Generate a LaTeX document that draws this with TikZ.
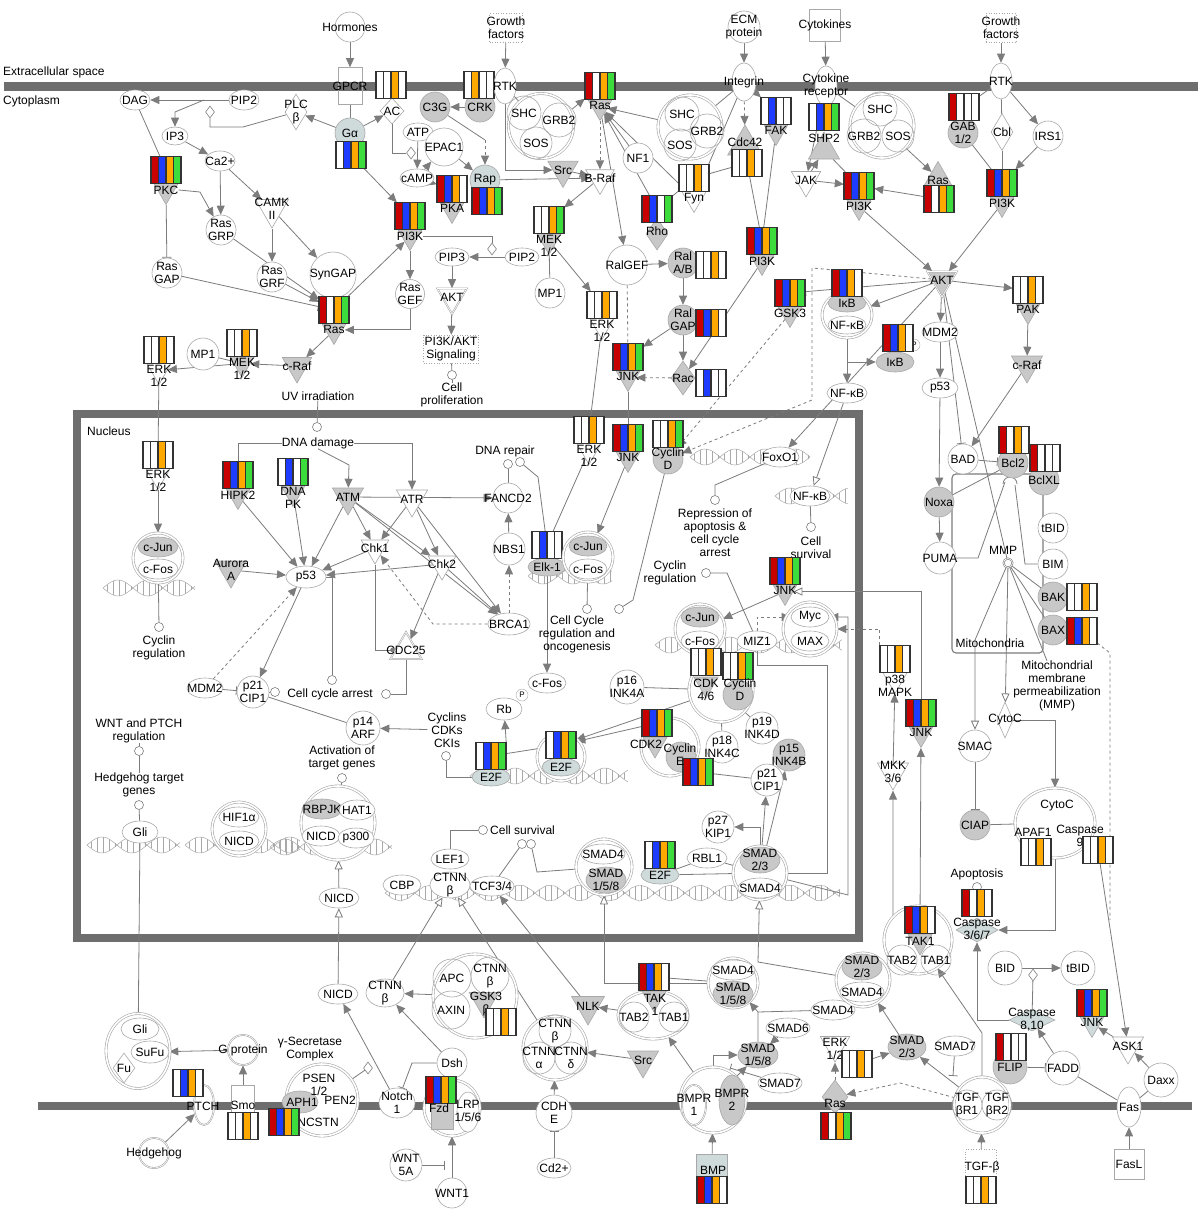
\documentclass[tikz,border=0pt]{standalone}
\usepackage{fontspec}
\setmainfont{Liberation Sans}
\usetikzlibrary{shapes.geometric,arrows.meta}
\pgfdeclarelayer{bgm}
\pgfdeclarelayer{bgl}
\pgfsetlayers{bgm,bgl,main}
\definecolor{cR}{HTML}{C80000}
\definecolor{cB}{HTML}{1E3CFF}
\definecolor{cO}{HTML}{FFA800}
\definecolor{cG}{HTML}{3CDC3C}
\definecolor{lc}{HTML}{A8A8A8}
\definecolor{ac}{HTML}{7C7C7C}
\definecolor{gf}{HTML}{C8C8C8}
\definecolor{bf}{HTML}{CFDADB}
\definecolor{memc}{HTML}{6E6E6E}
\newcommand\lf{\fontsize{12}{13}\selectfont}
\newcommand\cb[6]{%
 \node[barn] (#1) at (#2) {};
 \begin{scope}[shift={(#2)}]
 \fill[#3] (-15,-13.5) rectangle (-7.5,13.5);
 \fill[#4] (-7.5,-13.5) rectangle (0,13.5);
 \fill[#5] (0,-13.5) rectangle (7.5,13.5);
 \fill[#6] (7.5,-13.5) rectangle (15,13.5);
 \draw[line width=1.1pt,black!80] (-15,-13.5) rectangle (15,13.5) (-7.5,-13.5)--(-7.5,13.5) (0,-13.5)--(0,13.5) (7.5,-13.5)--(7.5,13.5);
 \end{scope}}
\newcommand\kin[9]{%
 \node[nT,fill=#9] (#1) at (#2,#3+20.5) {};
 \cb{#1b}{#2,#3}{#5}{#6}{#7}{#8}%
 \node[lbl,anchor=north] (#1l) at (#2,#3+15.5) {#4};}
\newcommand\helix[3]{%
 \draw[hx] plot[domain=#1:#2,samples=60] (\x,{#3+8*sin((\x-#1)*6)});
 \draw[hx] plot[domain=#1:#2,samples=60] (\x,{#3-8*sin((\x-#1)*6)});
 \pgfmathtruncatemacro\hxn{(#2-#1-4)/6}%
 \foreach \kk in {0,...,\hxn}{\pgfmathsetmacro\xx{#1+4+6*\kk}%
  \draw[hx] (\xx,{#3+8*sin((\xx-#1)*6)}) -- (\xx,{#3-8*sin((\xx-#1)*6)});}}
\tikzset{
 lbl/.style={inner sep=0pt,align=center,font=\lf},
 tx/.style={label={[lbl]center:#1}},
 nC/.style={circle,draw=lc,fill=white,inner sep=0pt,minimum size=30pt,line width=0.6pt},
 nG/.style={nC,fill=gf},
 nI/.style={circle,draw=lc,fill=none,inner sep=0pt,minimum size=30pt,line width=0.6pt},
 nE/.style={ellipse,draw=lc,fill=white,inner sep=0pt,minimum width=40pt,minimum height=20pt,line width=0.6pt},
 nD/.style={diamond,draw=lc,fill=white,inner sep=0pt,minimum width=24pt,minimum height=26pt,line width=0.6pt},
 nT/.style={regular polygon,regular polygon sides=3,shape border rotate=180,draw=lc,fill=gf,inner sep=0pt,minimum size=28pt,line width=0.6pt},
 nU/.style={regular polygon,regular polygon sides=3,draw=lc,fill=gf,inner sep=0pt,minimum size=30pt,line width=0.6pt},
 nX/.style={circle,draw=lc,double=white,double distance=1.6pt,fill=white,inner sep=0pt,line width=0.6pt},
 nXE/.style={ellipse,draw=lc,double=white,double distance=1.6pt,fill=white,inner sep=0pt,line width=0.6pt},
 nR/.style={rectangle,draw=lc,fill=white,inner sep=0pt,line width=0.6pt},
 nS/.style={circle,draw=ac,fill=white,inner sep=0pt,minimum size=9pt,line width=0.6pt},
 nK/.style={diamond,draw=ac,fill=white,inner sep=0pt,minimum width=9pt,minimum height=12pt,line width=0.6pt},
 nP/.style={circle,draw=lc,fill=white,inner sep=0pt,minimum size=12pt,font=\fontsize{8}{9}\selectfont},
 barn/.style={rectangle,inner sep=0pt,minimum width=30pt,minimum height=27pt},
 aL/.style={draw=ac,line width=0.8pt},
 aA/.style={aL,-{Triangle[length=9pt,width=8pt]}},
 aI/.style={aL,-{Bar[width=9pt]}},
 aO/.style={aL,-{Triangle[open,length=9pt,width=8pt,fill=white]}},
 aD/.style={aL,-{Circle[length=5pt]}},
 hx/.style={draw=lc,line width=0.5pt},
}
\begin{document}
\begin{tikzpicture}[x=1pt,y=-1pt,font=\lf]
\useasboundingbox (0,0) rectangle (1200,1220);
\begin{pgfonlayer}{bgm}
\fill[white] (0,0) rectangle (1200,1220);
\draw[memc,line width=9pt] (4,86.5)--(1198,86.5);
\draw[memc,line width=8pt] (38,1106)--(1192,1106);
\draw[memc,line width=8pt] (77,414) rectangle (859,938);
\helix{103}{195}{588}
\helix{87}{180}{845}
\helix{185}{300}{845}
\helix{270}{392}{847}
\helix{385}{840}{893}
\helix{690}{810}{457}
\helix{775}{848}{496}
\helix{655}{842}{645}
\helix{470}{628}{776}
\helix{528}{612}{576}
\end{pgfonlayer}
% texts
\node[lbl,anchor=west] (ecs) at (3,72) {Extracellular space};
\node[lbl,anchor=west] (cyt) at (3,101) {Cytoplasm};
\node[lbl,anchor=west] (nuc) at (87,431) {Nucleus};
% ===== top left
\node[nC,tx={Hormones}] (horm) at (350,27) {};
\node[nR,fill=none,minimum width=24pt,minimum height=37pt,tx={GPCR}] (gpcr) at (350,86) {};
\node[nD,tx={AC}] (ac) at (392,111) {};
\cb{acB}{391,85}{white}{white}{cO}{white}
\node[nG,tx={C3G}] (c3g) at (435,107) {};
\node[nG,tx={CRK}] (crk) at (480,107) {};
\cb{crkB}{479,85}{white}{cO}{white}{white}
\node[nE,minimum width=22pt,minimum height=36pt,tx={RTK}] (rtk1) at (505,86) {};
\node[nR,dotted,minimum width=33pt,minimum height=29pt,tx={Growth\\factors}] (gf1) at (506,28) {};
\node[nX,minimum size=65pt] (cx1) at (541,126) {};
\node[nI,minimum size=34pt,tx={SHC}] (shc1) at (524,113) {};
\node[nI,minimum size=34pt,tx={GRB2}] (grb1) at (559,120) {};
\node[nI,minimum size=32pt,tx={SOS}] (sos1) at (536,143) {};
\node[nC,fill=bf,tx={Gα}] (ga) at (350,133) {};
\cb{gaB}{351,155}{white}{cB}{cO}{cG}
\node[nD,minimum width=22pt,minimum height=36pt,tx={PLC\\β}] (plc) at (296,112) {};
\node[nE,minimum width=30pt,tx={PIP2}] (pip2a) at (244,100) {};
\node[nE,minimum width=30pt,tx={DAG}] (dag) at (135,100) {};
\node[nK] (cat1) at (210,112) {};
\node[nE,minimum width=26pt,minimum height=18pt,tx={IP3}] (ip3) at (175,136) {};
\node[nE,minimum width=30pt,tx={Ca2+}] (ca) at (220,161) {};
\kin{pkc}{166}{170}{PKC}{cR}{cB}{cO}{cG}{gf}
\node[nT,fill=white,minimum size=38pt,tx={CAMK\\II}] (camk) at (272,209) {};
\node[nC,tx={Ras\\GRP}] (rgrp) at (221,230) {};
\node[nC,tx={Ras\\GAP}] (rgap) at (167,273) {};
\node[nC,tx={Ras\\GRF}] (rgrf) at (272,277) {};
\node[nC,minimum size=46pt,tx={SynGAP}] (syngap) at (333,275) {};
\kin{ras1}{334}{310}{Ras}{cR}{white}{cO}{cG}{gf}
\node[nC,minimum size=29pt,tx={Ras\\GEF}] (rasgef) at (410,294) {};
\node[nT,minimum size=34pt,tx={c-Raf}] (craf1) at (297,366) {};
\kin{mek1}{242}{343}{MEK\\1/2}{white}{white}{cO}{white}{gf}
\node[nC,minimum size=32pt,tx={MP1}] (mp1a) at (203,354) {};
\kin{erk1}{159}{350}{ERK\\1/2}{white}{white}{cO}{white}{white}
\node[lbl] (uv) at (318,396) {UV irradiation};
\kin{pi3k1}{410}{216}{PI3K}{cR}{cB}{cO}{cG}{gf}
\node[nE,minimum width=30pt,minimum height=18pt,tx={ATP}] (atp) at (418,132) {};
\node[nC,minimum size=38pt,tx={EPAC1}] (epac) at (444,147) {};
\node[nE,minimum width=34pt,minimum height=18pt,tx={cAMP}] (camp) at (417,178) {};
\node[nK] (cat0) at (411,153) {};
\kin{pka}{452}{189}{PKA}{cR}{cB}{cO}{white}{gf}
\node[nC,fill=bf,tx={Rap}] (rap) at (485,180) {};
\cb{rapB}{487,201}{cR}{cB}{cO}{cG}
\node[nT,minimum size=35pt,tx={Src}] (src1) at (563,170) {};
\node[nT,fill=white,minimum size=33pt,tx={B-Raf}] (braf) at (600,178) {};
\kin{mek2}{549}{220}{MEK\\1/2}{white}{white}{cO}{cG}{gf}
\node[nE,minimum width=34pt,minimum height=18pt,tx={PIP3}] (pip3) at (452,257) {};
\node[nE,minimum width=34pt,minimum height=18pt,tx={PIP2}] (pip2b) at (522,257) {};
\node[nK] (cat2) at (492,249) {};
\node[nT,fill=white,double,minimum size=34pt,tx={AKT}] (akt1) at (452,297) {};
\node[nR,dotted,minimum width=55pt,minimum height=28pt,tx={PI3K/AKT\\Signaling}] (pasig) at (451,349) {};
\node[nS] (cp1) at (452,375) {};
\node[lbl] (cptx) at (452,395) {Cell\\proliferation};
\node[nC,tx={MP1}] (mp1b) at (550,293) {};
\kin{erk2}{602}{305}{ERK\\1/2}{white}{white}{cO}{white}{white}
\kin{ras2}{600}{86}{Ras}{cR}{white}{cO}{cG}{gf}
% ===== top middle/right
\node[nC,minimum size=32pt,tx={ECM\\protein}] (ecm) at (744,27) {};
\node[nE,minimum width=24pt,minimum height=38pt,tx={Integrin}] (integ) at (744,82) {};
\node[nR,minimum width=31pt,minimum height=32pt,tx={Cytokines}] (cytk) at (825,25) {};
\node[nE,minimum width=22pt,minimum height=40pt,tx={Cytokine\\receptor}] (cytr) at (826,86) {};
\node[nX,minimum size=64pt] (cx2) at (690,127) {};
\node[nI,minimum size=34pt,tx={SHC}] (shc2) at (682,114) {};
\node[nI,minimum size=34pt,tx={GRB2}] (grb2) at (707,131) {};
\node[nI,minimum size=32pt,tx={SOS}] (sos2) at (680,145) {};
\node[nX,minimum size=64pt] (cx3) at (882,126) {};
\node[nI,minimum size=34pt,tx={SHC}] (shc3) at (880,109) {};
\node[nI,minimum size=34pt,tx={GRB2}] (grb3) at (864,136) {};
\node[nI,minimum size=32pt,tx={SOS}] (sos3) at (898,136) {};
\kin{fak}{776}{111}{FAK}{white}{cB}{white}{white}{gf}
\node[nU,minimum size=40pt] (cdc42) at (745,145) {};
\node[lbl] (cdc42l) at (745,142) {Cdc42};
\cb{cdc42B}{747,163}{white}{white}{cO}{white}
\kin{fyn}{694}{178}{Fyn}{white}{white}{cO}{white}{white}
\node[nD,fill=gf,minimum width=22pt,minimum height=32pt] (rho) at (657,234) {};
\cb{rhoB}{657,209}{cR}{cB}{white}{cG}
\node[lbl] (rhol) at (657,231) {Rho};
\node[nC,tx={NF1}] (nf1) at (638,158) {};
\node[nC,minimum size=40pt,tx={RalGEF}] (ralgef) at (627,265) {};
\node[nG,tx={Ral\\A/B}] (ralab) at (683,263) {};
\cb{ralabB}{711,265}{white}{white}{cO}{white}
\node[nG,tx={Ral\\GAP}] (ralgap) at (683,320) {};
\cb{ralgapB}{711,323}{cR}{cB}{cO}{white}
\node[nD,fill=gf,minimum width=24pt,minimum height=34pt,tx={Rac}] (rac) at (683,378) {};
\cb{racB}{711,383}{white}{cB}{white}{white}
\kin{jnk1}{628}{357}{JNK}{cR}{cB}{cO}{cG}{gf}
\kin{pi3k2}{762}{241}{PI3K}{cR}{cB}{cO}{cG}{gf}
\node[nU,minimum size=36pt] (shp2) at (824,150) {};
\cb{shp2B}{824,117}{white}{cB}{cO}{cG}
\node[lbl] (shp2l) at (824,138) {SHP2};
\node[nT,fill=white,minimum size=34pt,tx={JAK}] (jak) at (806,180) {};
\kin{pi3k3}{859}{186}{PI3K}{cR}{cB}{cO}{cG}{gf}
\kin{gsk3}{790}{293}{GSK3}{cR}{cB}{cO}{cG}{gf}
\node[nXE,minimum width=50pt,minimum height=46pt] (nfkbcx) at (847,315) {};
\node[nE,fill=gf,minimum width=38pt,minimum height=18pt,tx={IκB}] (ikb1) at (847,303) {};
\node[nE,minimum width=38pt,minimum height=18pt,tx={NF-κB}] (nfkb1) at (847,325) {};
\cb{ikb1B}{847,283}{cR}{cB}{cO}{white}
\node[nP] (ikbp) at (914,345) {P};
\node[nE,fill=gf,minimum width=38pt,minimum height=20pt,tx={IκB}] (ikb2) at (895,362) {};
\cb{ikb2B}{898,338}{cR}{cB}{cO}{white}
\node[nE,minimum width=40pt,minimum height=20pt,tx={NF-κB}] (nfkb2) at (847,393) {};
\node[nR,dotted,minimum width=30pt,minimum height=29pt,tx={Growth\\factors}] (gf2) at (1001,28) {};
\node[nE,minimum width=22pt,minimum height=36pt,tx={RTK}] (rtk2) at (1001,81) {};
\node[nG,tx={GAB\\1/2}] (gab) at (963,133) {};
\cb{gabB}{964,107}{cR}{white}{white}{white}
\node[nD,minimum width=22pt,minimum height=37pt,tx={Cbl}] (cbl) at (1002,132) {};
\node[nC,tx={IRS1}] (irs1) at (1048,136) {};
\kin{pi3k4}{1002}{183}{PI3K}{cR}{cB}{cO}{cG}{gf}
\node[nU,minimum size=33pt] (ras3) at (938,178) {};
\cb{ras3B}{939,199}{cR}{white}{cO}{cG}
\node[lbl] (ras3l) at (938,180) {Ras};
\node[nT,double,minimum size=34pt,tx={AKT}] (akt2) at (942,280) {};
\kin{pak}{1028}{290}{PAK}{white}{white}{cO}{white}{gf}
\node[nT,minimum size=36pt,tx={c-Raf}] (craf2) at (1027,365) {};
\node[nE,minimum width=36pt,tx={MDM2}] (mdm2a) at (940,332) {};
\node[nE,minimum width=36pt,tx={p53}] (p53a) at (940,388) {};
% ===== mitochondria
\node[draw=ac,line width=1.1pt,rounded corners=4pt,minimum width=91pt,minimum height=179pt,inner sep=0pt] (mito) at (997.5,563.5) {};
\node[lbl] (mitol) at (990,643) {Mitochondria};
\node[nC,tx={BAD}] (bad) at (963,459) {};
\node[nG,tx={Bcl2}] (bcl2) at (1013,463) {};
\cb{bcl2B}{1014,440}{cR}{white}{cO}{white}
\node[nG,tx={BclXL}] (bclxl) at (1044,480) {};
\cb{bclxlB}{1045,458}{cR}{white}{white}{white}
\node[nG,tx={Noxa}] (noxa) at (939,502) {};
\node[nC,minimum size=32pt,tx={PUMA}] (puma) at (940,558) {};
\node[lbl] (mmpl) at (1003,550) {MMP};
\node[nS,double] (mmpc) at (1008,563) {};
\node[nC,tx={tBID}] (tbid1) at (1053,528) {};
\node[nC,tx={BIM}] (bim) at (1053,564) {};
\node[nG,tx={BAK}] (bak) at (1053,597) {};
\cb{bakB}{1082,597}{white}{white}{cO}{white}
\node[nG,tx={BAX}] (bax) at (1053,630) {};
\cb{baxB}{1082,631}{cR}{cB}{cO}{white}
\node[lbl] (mmpt) at (1057,686) {Mitochondrial\\membrane\\permeabilization\\(MMP)};
\node[nD,minimum width=16pt,minimum height=36pt,tx={CytoC}] (cytoc1) at (1005,720) {};
\node[nC,minimum size=32pt,tx={SMAC}] (smac) at (975,746) {};
\node[nG,tx={CIAP}] (ciap) at (975,825) {};
\node[nXE,minimum width=80pt,minimum height=70pt] (apafcx) at (1055,823) {};
\node[lbl] (cytoc2) at (1057,806) {CytoC};
\node[lbl] (apaf1) at (1033,832) {APAF1};
\node[lbl] (casp9) at (1080,836) {Caspase\\9};
\cb{apafB}{1036,852}{white}{white}{cO}{white}
\cb{casp9B}{1098,850}{white}{white}{cO}{white}
\node[lbl] (apot) at (977,874) {Apoptosis};
\node[nS] (apoc) at (977,887) {};
\node[nD,fill=bf,minimum width=42pt,minimum height=24pt] (casp3) at (977,930) {};
\cb{casp3B}{977,903}{cR}{white}{cO}{white}
\node[lbl] (casp3l) at (977,929) {Caspase\\3/6/7};
\node[nX,minimum size=68pt] (tak2cx) at (918,940) {};
\node[nI,minimum size=30pt,tx={TAB2}] (tab2b) at (902,960) {};
\node[nI,minimum size=30pt,tx={TAB1}] (tab1b) at (936,960) {};
\node[nT,minimum size=28pt] (tak1b) at (920,941) {};
\cb{tak1bB}{920,920}{cR}{cB}{cO}{white}
\node[lbl] (tak1bl) at (920,941) {TAK1};
\node[nC,minimum size=34pt,tx={BID}] (bid) at (1005,968) {};
\node[nC,minimum size=34pt,tx={tBID}] (tbid2) at (1078,968) {};
\node[nK] (cat3) at (1033,975) {};
\node[nD,fill=bf,minimum width=46pt,minimum height=22pt,tx={Caspase\\8,10}] (casp8) at (1032,1020) {};
\kin{jnk4}{1092}{1003}{JNK}{cR}{cB}{cO}{cG}{bf}
\node[nT,fill=white,minimum size=36pt,tx={ASK1}] (ask1) at (1128,1046) {};
\node[nG,minimum size=34pt,tx={FLIP}] (flip) at (1010,1067) {};
\cb{flipB}{1011,1047}{cR}{white}{white}{white}
\node[nC,minimum size=34pt,tx={FADD}] (fadd) at (1063,1068) {};
\node[nE,minimum width=24pt,minimum height=40pt,tx={Fas}] (fas) at (1129,1107) {};
\node[nC,minimum size=34pt,tx={Daxx}] (daxx) at (1161,1080) {};
\node[nR,minimum width=30pt,minimum height=30pt,tx={FasL}] (fasl) at (1129,1164) {};
\node[nX,minimum size=56pt] (tgfr) at (982,1105) {};
\node[nI,minimum size=30pt,tx={TGF\\βR1}] (tgfr1) at (967,1105) {};
\node[nI,minimum size=30pt,tx={TGF\\βR2}] (tgfr2) at (997,1105) {};
\node[nR,dotted,minimum width=31pt,minimum height=27pt] (tgfb) at (981,1163) {};
\node[lbl] (tgfbl) at (982,1167) {TGF-β};
\cb{tgfbB}{981,1190}{white}{white}{cO}{white}
\node[nE,fill=gf,minimum width=38pt,minimum height=26pt,tx={SMAD\\2/3}] (smad23a) at (907,1047) {};
\node[nE,minimum width=40pt,tx={SMAD7}] (smad7b) at (955,1046) {};
\kin{p38}{895}{659}{p38\\MAPK}{white}{white}{cO}{white}{white}
\kin{jnk3}{921}{713}{JNK}{cR}{cB}{cO}{cG}{gf}
\node[nT,fill=white,minimum size=36pt,tx={MKK\\3/6}] (mkk) at (893,772) {};
% ===== nucleus
\kin{erk3}{158}{455}{ERK\\1/2}{white}{white}{cO}{white}{white}
\node[nX,minimum size=50pt] (cjcx1) at (158,558) {};
\node[nE,fill=gf,tx={c-Jun}] (cjun1) at (158,547) {};
\node[nE,tx={c-Fos}] (cfos1) at (158,569) {};
\node[nS] (cr1c) at (159,627) {};
\node[lbl] (cr1) at (159,648) {Cyclin\\regulation};
\kin{hipk2}{238}{475}{HIPK2}{cR}{cB}{cO}{cG}{gf}
\kin{dnapk}{293}{472}{DNA\\PK}{white}{cB}{white}{cG}{gf}
\node[nT,minimum size=36pt,tx={Aurora\\A}] (aurora) at (231,570) {};
\node[nE,minimum width=40pt,minimum height=22pt,tx={p53}] (p53b) at (306,577) {};
\node[nE,minimum width=36pt,tx={MDM2}] (mdm2b) at (205,688) {};
\node[nC,minimum size=32pt,tx={p21\\CIP1}] (p21a) at (253,692) {};
\node[nS] (cca1) at (275,692) {};
\node[nS] (cca2) at (332,680) {};
\node[nS] (cca3) at (386,694) {};
\node[lbl] (ccat) at (330,694) {Cell cycle arrest};
\node[lbl] (dnad) at (318,443) {DNA damage};
\node[nS] (uvc) at (317,427) {};
\node[nT,minimum size=36pt,tx={ATM}] (atm) at (348,497) {};
\node[nT,fill=white,minimum size=36pt,tx={ATR}] (atr) at (412,499) {};
\node[nT,fill=white,minimum size=32pt,tx={Chk1}] (chk1) at (375,548) {};
\node[nT,fill=white,minimum size=32pt,tx={Chk2}] (chk2) at (442,564) {};
\node[nU,fill=white,double,minimum size=36pt,tx={CDC25}] (cdc25) at (406,650) {};
\node[nE,minimum width=42pt,minimum height=22pt,tx={BRCA1}] (brca1) at (509,624) {};
\node[nC,minimum size=30pt,tx={FANCD2}] (fancd2) at (508,498) {};
\node[nC,minimum size=32pt,tx={NBS1}] (nbs1) at (509,549) {};
\node[lbl] (dnar) at (505,451) {DNA repair};
\node[nS] (drc1) at (508,464) {};
\node[nS] (drc2) at (520,462) {};
\node[nE,fill=gf,minimum width=38pt,minimum height=18pt,tx={Elk-1}] (elk1) at (547,567) {};
\cb{elk1B}{547,545}{white}{cB}{white}{white}
\kin{erk4}{589}{430}{ERK\\1/2}{white}{white}{cO}{white}{white}
\node[nX,minimum size=50pt] (cjcx2) at (588,557) {};
\node[nE,fill=gf,minimum width=38pt,tx={c-Jun}] (cjun2) at (588,546) {};
\node[nE,minimum width=38pt,tx={c-Fos}] (cfos2) at (588,569) {};
\node[nS] (ccrc) at (587,609) {};
\node[nS] (ccrc2) at (619,609) {};
\node[lbl] (ccrt) at (577,634) {Cell Cycle\\regulation and\\oncogenesis};
\node[nE,minimum width=38pt,tx={c-Fos}] (cfos3) at (547,683) {};
\node[nE,minimum width=36pt,minimum height=22pt,tx={Rb}] (rb) at (504,709) {};
\node[nP] (rbp) at (522,695) {P};
\node[nE,fill=bf,minimum width=38pt,minimum height=18pt,tx={E2F}] (e2f1) at (491,777) {};
\cb{e2f1B}{491,756}{white}{cB}{cO}{cG}
\node[nX,minimum size=48pt] (e2f2cx) at (561,757) {};
\node[nE,fill=bf,minimum width=38pt,minimum height=18pt,tx={E2F}] (e2f2) at (561,767) {};
\cb{e2f2B}{561,745}{white}{cB}{cO}{cG}
\node[lbl] (cck) at (447,730) {Cyclins\\CDKs\\CKIs};
\node[nS] (cckc) at (446,756) {};
\node[nC,minimum size=34pt,tx={p14\\ARF}] (p14) at (363,728) {};
\node[lbl] (atgt) at (342,758) {Activation of\\target genes};
\node[nS] (atgc) at (342,778) {};
\node[nE,minimum width=38pt,tx={FoxO1}] (foxo1) at (780,457) {};
\node[nE,minimum width=40pt,tx={NF-κB}] (nfkb3) at (810,496) {};
\node[lbl] (rept) at (715,533) {Repression of\\apoptosis \&\\cell cycle\\arrest};
\node[nS] (repc) at (715,500) {};
\node[nS] (cs1c) at (811,527) {};
\node[lbl] (cs1) at (811,548) {Cell\\survival};
\kin{jnk2}{628}{438}{JNK}{cR}{cB}{cO}{cG}{gf}
\node[nG,tx={Cyclin\\D}] (cycd1) at (668,459) {};
\cb{cycd1B}{668,434}{white}{white}{cO}{cG}
\node[lbl] (cr2) at (670,573) {Cyclin\\regulation};
\node[nS] (cr2c) at (706,573) {};
\kin{jnk5}{785}{571}{JNK}{cR}{cB}{cO}{cG}{gf}
\node[nX,minimum size=50pt] (cjcx3) at (700,629) {};
\node[nE,fill=gf,minimum width=38pt,tx={c-Jun}] (cjun3) at (700,617) {};
\node[nE,minimum width=38pt,tx={c-Fos}] (cfos4) at (700,641) {};
\node[nE,tx={MIZ1}] (miz1) at (757,641) {};
\node[nX,minimum size=54pt] (mycx) at (810,629) {};
\node[nE,minimum width=38pt,tx={Myc}] (myc) at (810,617) {};
\node[nE,minimum width=38pt,tx={MAX}] (max) at (810,641) {};
\node[nX,minimum size=64pt] (cdk46cx) at (721,690) {};
\node[nT,minimum size=28pt] (cdk46) at (706,684) {};
\node[nG] (cycd2) at (738,695) {};
\cb{cdk46B}{706,662}{white}{white}{cO}{white}
\cb{cycd2B}{738,666}{white}{white}{cO}{cG}
\node[lbl] (cdk46l) at (706,690) {CDK\\4/6};
\node[lbl] (cycd2l) at (740,690) {Cyclin\\D};
\node[nC,minimum size=34pt,tx={p16\\INK4A}] (p16) at (627,687) {};
\node[nX,minimum size=58pt] (cdk2cx) at (670,747) {};
\node[nT,minimum size=28pt] (cdk2) at (655,744) {};
\node[nG] (cyce) at (681,757) {};
\cb{cdk2B}{657,723}{cR}{cB}{cO}{cG}
\node[lbl] (cdk2l) at (646,744) {CDK2};
\node[nC,minimum size=32pt,tx={p18\\INK4C}] (p18) at (722,747) {};
\cb{cyceB}{698,772}{cR}{cB}{cO}{cG}
\node[lbl] (cycel) at (680,755) {Cyclin\\E};
\node[nC,minimum size=32pt,tx={p19\\INK4D}] (p19) at (762,728) {};
\node[nG,minimum size=32pt,tx={p15\\INK4B}] (p15) at (789,755) {};
\node[nC,minimum size=32pt,tx={p21\\CIP1}] (p21b) at (767,780) {};
\node[nC,minimum size=32pt,tx={p27\\KIP1}] (p27) at (718,827) {};
\node[nE,fill=bf,minimum width=38pt,minimum height=18pt,tx={E2F}] (e2f3) at (660,875) {};
\cb{e2f3B}{660,855}{white}{cB}{cO}{cG}
\node[nE,tx={RBL1}] (rbl1) at (707,858) {};
\node[nX,minimum size=54pt] (smadcx1) at (760,873) {};
\node[nE,fill=gf,minimum width=40pt,minimum height=26pt,tx={SMAD\\2/3}] (smad23b) at (760,860) {};
\node[nE,minimum width=44pt,tx={SMAD4}] (smad4a) at (760,888) {};
\node[nX,minimum size=56pt] (smadcx2) at (604,867) {};
\node[nE,minimum width=44pt,tx={SMAD4}] (smad4b) at (603,854) {};
\node[nE,fill=gf,minimum width=40pt,minimum height=26pt,tx={SMAD\\1/5/8}] (smad158a) at (606,880) {};
\node[nE,minimum width=38pt,tx={LEF1}] (lef1) at (450,859) {};
\node[nE,minimum width=38pt,tx={CBP}] (cbp) at (402,885) {};
\node[nE,minimum width=40pt,minimum height=26pt,tx={CTNN\\β}] (ctnnb1) at (450,885) {};
\node[nE,minimum width=44pt,tx={TCF3/4}] (tcf) at (492,886) {};
\node[nS] (cs2c) at (483,830) {};
\node[lbl,anchor=west] (cs2) at (490,830) {Cell survival};
\node[nS] (tc1) at (522,844) {};
\node[nS] (tc2) at (531,844) {};
\node[nX,minimum size=74pt] (rbpcx) at (338,823) {};
\node[nE,fill=gf,minimum width=40pt,tx={RBPJK}] (rbpjk) at (322,809) {};
\node[nE,minimum width=36pt,tx={HAT1}] (hat1) at (357,810) {};
\node[nE,minimum width=38pt,tx={NICD}] (nicd1) at (321,836) {};
\node[nE,minimum width=36pt,tx={p300}] (p300) at (356,838) {};
\node[nX,minimum size=54pt] (hifcx) at (239,829) {};
\node[nE,minimum width=40pt,tx={HIF1α}] (hif1a) at (239,817) {};
\node[nE,minimum width=40pt,tx={NICD}] (nicd0) at (239,841) {};
\node[nE,minimum width=36pt,minimum height=22pt,tx={Gli}] (gli1) at (140,832) {};
\node[lbl] (wntt) at (139,731) {WNT and PTCH\\regulation};
\node[nS] (wntc) at (139,751) {};
\node[lbl] (hht) at (139,785) {Hedgehog target\\genes};
\node[nS] (hhc) at (139,805) {};
% ===== lower cytoplasm
\node[nE,tx={NICD}] (nicd2) at (339,898) {};
\node[nE,tx={NICD}] (nicd3) at (338,994) {};
\node[nE,minimum width=38pt,minimum height=28pt,tx={CTNN\\β}] (ctnnb2) at (385,993) {};
\node[nX,minimum size=84pt] (apccx) at (475,996) {};
\node[nI,minimum size=38pt,tx={APC}] (apc) at (452,978) {};
\node[nI,minimum size=38pt,tx={CTNN\\β}] (ctnnb4) at (490,976) {};
\node[nI,minimum size=38pt,tx={AXIN}] (axin) at (451,1010) {};
\node[nT,minimum size=34pt] (gskbeta) at (484,1001) {};
\node[lbl] (gskbetal) at (486,1004) {GSK3\\β};
\cb{gskbetaB}{501,1022}{white}{white}{cO}{white}
\node[nC,tx={Dsh}] (dsh) at (452,1063) {};
\node[nX,minimum size=56pt] (fzdcx) at (452,1108) {};
\node[nR,fill=gf,minimum width=22pt,minimum height=28pt] (fzd) at (442,1115) {};
\node[nE,minimum width=22pt,minimum height=40pt] (lrp) at (468,1112) {};
\cb{fzdB}{441,1090}{cR}{cB}{cO}{cG}
\node[lbl] (fzdl) at (439,1108) {Fzd};
\node[lbl] (lrpl) at (468,1111) {LRP\\1/5/6};
\node[nC,tx={WNT1}] (wnt1) at (452,1193) {};
\node[nC,minimum size=32pt,tx={WNT\\5A}] (wnt5a) at (406,1165) {};
\node[nE,minimum width=36pt,minimum height=30pt,tx={Notch\\1}] (notch) at (397,1103) {};
\node[nX,minimum size=72pt] (gscx) at (322,1100) {};
\node[nE,fill=gf,minimum width=36pt,minimum height=22pt] (aph1) at (300,1102) {};
\node[lbl] (aph1l) at (302,1102) {APH1};
\node[lbl] (psen) at (319,1085) {PSEN\\1/2};
\node[lbl] (pen2) at (340,1100) {PEN2};
\node[lbl] (ncstn) at (318,1122) {NCSTN};
\cb{aphB}{284,1122}{cR}{cB}{cO}{cG}
\node[lbl] (gst) at (310,1049) {γ-Secretase\\Complex};
\node[nK] (cat4) at (368,1068) {};
\node[nXE,minimum width=64pt,minimum height=75pt] (glicx) at (138,1051) {};
\node[nE,minimum width=38pt,minimum height=22pt,tx={Gli}] (gli2) at (140,1029) {};
\node[nE,minimum width=38pt,minimum height=22pt,tx={SuFu}] (sufu) at (150,1052) {};
\node[nD,minimum width=22pt,minimum height=30pt,tx={Fu}] (fu) at (124,1068) {};
\node[nC,double,tx={G protein}] (gprot) at (243,1050) {};
\node[nR,minimum width=23pt,minimum height=27pt] (smo) at (243,1099) {};
\node[lbl] (smol) at (243,1105) {Smo};
\cb{smoB}{243,1126}{white}{white}{cO}{white}
\node[nE,double,minimum width=20pt,minimum height=40pt] (ptch) at (204,1105) {};
\cb{ptchB}{188,1083}{white}{cB}{cO}{white}
\node[lbl] (ptchl) at (203,1106) {PTCH};
\node[nC,double,tx={Hedgehog}] (hedge) at (154,1153) {};
\node[nC,minimum size=36pt,tx={CDH\\E}] (cdhe) at (554,1113) {};
\node[nE,minimum width=34pt,tx={Cd2+}] (cd2) at (554,1168) {};
\node[nX,minimum size=64pt] (ctnncx) at (555,1048) {};
\node[nI,minimum size=32pt,tx={CTNN\\β}] (ctnnb3) at (555,1031) {};
\node[nI,minimum size=32pt,tx={CTNN\\α}] (ctnna) at (539,1058) {};
\node[nI,minimum size=32pt,tx={CTNN\\δ}] (ctnnd) at (571,1058) {};
\node[nT,minimum size=38pt,tx={NLK}] (nlk) at (588,1006) {};
\node[nT,minimum size=36pt,tx={Src}] (src2) at (643,1060) {};
\node[nXE,minimum width=70pt,minimum height=48pt] (takcx2) at (653,1015) {};
\node[nI,minimum size=30pt,tx={TAB2}] (tab2) at (634,1017) {};
\node[nI,minimum size=30pt,tx={TAB1}] (tab1) at (674,1017) {};
\node[nT,minimum size=28pt] (tak2) at (654,998) {};
\cb{tak2B}{654,977}{cR}{cB}{cO}{white}
\node[lbl] (tak2l) at (655,1005) {TAK\\1};
\node[nX,minimum size=50pt] (smadcx3) at (733,983) {};
\node[nE,minimum width=44pt,tx={SMAD4}] (smad4c) at (733,970) {};
\node[nE,fill=gf,minimum width=40pt,minimum height=26pt,tx={SMAD\\1/5/8}] (smad158b) at (733,994) {};
\node[nE,minimum width=44pt,tx={SMAD4}] (smad4d) at (833,1010) {};
\node[nE,minimum width=44pt,tx={SMAD6}] (smad6) at (788,1028) {};
\node[nE,fill=gf,minimum width=40pt,minimum height=26pt,tx={SMAD\\1/5/8}] (smad158c) at (758,1055) {};
\node[nE,minimum width=44pt,tx={SMAD7}] (smad7a) at (780,1083) {};
\node[nX,minimum size=54pt] (smadcx4) at (863,980) {};
\node[nE,fill=gf,minimum width=40pt,minimum height=26pt,tx={SMAD\\2/3}] (smad23c) at (862,967) {};
\node[nE,minimum width=44pt,tx={SMAD4}] (smad4e) at (862,992) {};
\node[nX,minimum size=66pt] (bmprcx) at (713,1100) {};
\node[nE,double,minimum width=24pt,minimum height=40pt,tx={BMPR\\1}] (bmpr1) at (694,1105) {};
\node[nE,fill=gf,minimum width=26pt,minimum height=50pt,tx={BMPR\\2}] (bmpr2) at (732,1100) {};
\node[nR,fill=bf,minimum width=31pt,minimum height=24pt] (bmp) at (712,1166) {};
\node[lbl] (bmpl) at (713,1170) {BMP};
\cb{bmpB}{712,1190}{cR}{cB}{cO}{white}
\node[nT,fill=white,minimum size=34pt] (erk5) at (835,1045) {};
\node[lbl] (erk5l) at (835,1049) {ERK\\1/2};
\cb{erk5B}{857,1064}{white}{white}{cO}{white}
\node[nD,fill=gf,minimum width=26pt,minimum height=34pt] (ras4) at (835,1097) {};
\node[lbl] (ras4l) at (835,1103) {Ras};
\cb{ras4B}{836,1126}{cR}{white}{cO}{cG}
% helper coordinates
\coordinate (j1) at (204,100);
\coordinate (j2) at (485,140);
\coordinate (j3) at (953,1076);
\coordinate (j4) at (758,1012);
\coordinate (j5) at (730,1068);
\coordinate (j6) at (445,1165);
\coordinate (j7) at (604,983);
% ===== connectors
\begin{pgfonlayer}{bgl}
\draw[aA] (horm) -- (gpcr);
\draw[aL] (gpcr) -- (ga);
\draw[aA] (ga) -- (plc);
\draw[aA] (ga) -- (ac);
\draw[aA] (gaB) -- (pi3k1b);
\draw[aL] (plc) -- (243,127) -- (210,127) -- (cat1);
\draw[aA] (pip2a) -- (dag);
\draw[aA] (j1) -- (175,112) -- (ip3);
\draw[aA] (ip3) -- (ca);
\draw[aL] (dag) -- (pkcb);
\draw[aA] (pkcl.east) -- (200,192) -- (rgrp);
\draw[aA] (ca) -- (rgrp);
\draw[aA] (ca) -- (camk);
\draw[aI] (pkc) -- (rgap);
\draw[aA] (camk) -- (rgrf);
\draw[aA] (camk) -- (syngap);
\draw[aA] (rgrp) -- (ras1b);
\draw[aA] (rgrf) -- (ras1b);
\draw[aI] (rgap) -- (ras1b);
\draw[aI] (syngap) -- (ras1b);
\draw[aA] (rasgef) |- (ras1l);
\draw[aA] (ras1b) -- (pi3k1);
\draw[aA] (ras1) -- (craf1);
\draw[aA] (craf1) -- (mek1);
\draw[aL] (mp1a) -- (mek1);
\draw[aA] (mek1) -- (erk1);
\draw[aL] (erk1) -- (erk3b);
\draw[aA] (pi3k1) -- (rasgef);
\draw[aL] (pi3k1l.east) -| (cat2);
\draw[aA] (pip2b) -- (pip3);
\draw[aA] (pip3) -- (akt1);
\draw[aA] (akt1) -- (pasig);
\draw[aL] (pasig) -- (cp1);
\draw[aL] (cp1) -- (cptx);
\draw[aL] (ac) |- (cat0);
\draw[aA] (atp) -- (camp);
\draw[aA] (camp) -- (epac);
\draw[aA] (camp) -- (pkab);
\draw[aA] (epac) -- (rap);
\draw[aL] (c3g) -- (j2);
\draw[aA,dashed] (j2) -- (rap);
\draw[aA] (crk) -- (c3g);
\draw[aA] (gf1) -- (rtk1);
\draw[aL] (rtk1) -- (cx1);
\draw[aA] (rtk1) |- (src1);
\draw[aA] (rap) -- (braf);
\draw[aA] (src1) -- (braf);
\draw[aA] (grb1) -- (ras2b);
\draw[aA] (braf) -- (mek2b);
\draw[aL] (mek2) -- (mp1b);
\draw[aA] (mek2) -- (erk2b);
\draw[aL] (erk2) -- (erk4b);
\draw[aA] (ecm) -- (integ);
\draw[aA] (integ) -- (fakb);
\draw[aA,dashed] (integ) -- (cdc42);
\draw[aL] (integ) -- (cx2);
\draw[aA] (integ) -- (fyn);
\draw[aL] (cdc42B) -- (fynb);
\draw[aA] (cx2) -- (ras2);
\draw[aA] (nf1) -- (ras2);
\draw[aA] (rhoB) -- (ras2);
\draw[aA] (fyn) -- (ras2);
\draw[aL] (rhoB) -- (fynb);
\draw[aA] (ras2) -- (ralgef);
\draw[aA,dashed] (ras2) -- (braf);
\draw[aA] (ralgef) -- (ralab);
\draw[aA] (ralab) -- (ralgap);
\draw[aA] (ralgap) -- (rac);
\draw[aA] (ralgap) -- (jnk1b);
\draw[aA,dashed] (rac) -- (jnk1);
\draw[aL,dashed] (ralgef) -- (jnk1b);
\draw[aL] (jnk1) -- (jnk2b);
\draw[aL] (cdc42B) -- (pi3k2b);
\draw[aL] (fak) -- (pi3k2b);
\draw[aA] (pi3k2) -- (rac);
\draw[aA] (cytk) -- (cytr);
\draw[aL] (cytr) -- (cx3);
\draw[aA] (cytr) -- (jak);
\draw[aA] (jak) -- (shp2);
\draw[aL] (shp2) -- (pi3k3b);
\draw[aA] (jak) -- (pi3k3b);
\draw[aA] (cx3) -- (ras3);
\draw[aA] (ras3B) -- (pi3k3b);
\draw[aA] (pi3k3) -- (akt2);
\draw[aA] (gf2) -- (rtk2);
\draw[aL] (rtk2) -- (gabB);
\draw[aL] (rtk2) -- (cbl);
\draw[aA] (rtk2) -- (irs1);
\draw[aL] (gab) -- (pi3k4b);
\draw[aL] (cbl) -- (pi3k4b);
\draw[aA] (irs1) -- (pi3k4b);
\draw[aA] (pi3k4) -- (akt2);
\draw[aA] (akt2) -- (pakb);
\draw[aA] (pak) -- (craf2);
\draw[aA] (akt2) -- (mdm2a);
\draw[aA] (mdm2a) -- (p53a);
\draw[aI] (akt2) -- (gsk3b);
\draw[aA] (akt2) -- (nfkbcx);
\draw[aA,dashed] (akt2) -- (812,268) -- (812,400) -- (cycd1);
\draw[aA,dashed] (gsk3) -- (cycd1);
\draw[aA] (nfkbcx) |- (ikb2);
\draw[aA] (nfkbcx) -- (nfkb2);
\draw[aO] (nfkb2) -- (nfkb3);
\draw[aA] (akt2) -- (foxo1);
\draw[aL] (nfkb3) -- (cs1c);
\draw[aL] (foxo1) -- (715,485) -- (repc);
\draw[aA] (p53a) -- (noxa);
\draw[aA] (noxa) -- (puma);
\draw[aI] (akt2) -- (bad);
\draw[aL] (akt2) -- (mmpc);
\draw[aA] (craf2) -- (bad);
\draw[aI] (bad) -- (bcl2);
\draw[aL] (noxa) -- (bcl2);
\draw[aL] (puma) -- (978,558) -- (1005,482);
\draw[aL] (bim) -- (1025,564) -- (1015,485);
\draw[aL] (1003,484) arc (180:360:7);
\draw[aL] (mmpc) -- (bak);
\draw[aL] (mmpc) -- (bax);
\draw[aO] (mmpc) -- (cytoc1);
\draw[aO] (mmpc) -- (975,640) -- (smac);
\draw[aL] (mmpc) -- (mmpt);
\draw[aA] (cytoc1) -| (apafcx);
\draw[aI] (smac) -- (ciap);
\draw[aI] (ciap) -- (apafcx);
\draw[aA] (apafcx) |- (casp3);
\draw[aA] (casp9B) -- (ask1);
\draw[aL,dashed] (baxB) -- (1110,653) -- (1110,920);
\draw[aL] (casp3B) -- (apoc);
\draw[aA] (casp8) -| (casp3);
\draw[aL] (casp8) -- (cat3);
\draw[aA] (bid) -- (tbid2);
\draw[aA] (fadd) -- (casp8);
\draw[aI] (flip) -- (fadd);
\draw[aL] (fas) -- (fadd);
\draw[aL] (fas) -- (daxx);
\draw[aA] (daxx) -- (ask1);
\draw[aA] (ask1) -- (jnk4);
\draw[aA] (fasl) -- (fas);
\draw[aA] (tgfb) -- (tgfr);
\draw[aA] (tgfr) -- (982,1033) -- (tak2cx);
\draw[aA] (tgfr) -- (smad23a);
\draw[aI] (smad7b) -- (j3);
\draw[aA,dashed] (tgfr) -- (900,1083) -- (ras4);
\draw[aA,dashed] (ras4) -- (erk5);
\draw[aA] (erk5B) -- (smad23a);
\draw[aA] (smad23a) -- (smadcx4);
\draw[aO] (smadcx4) -- (758,962) -- (smadcx1);
\draw[aA] (smad158c) -- (j4) -- (smadcx3);
\draw[aL] (smad4d) -- (j4);
\draw[aA] (smad6) -- (smad158c);
\draw[aI] (smad7a) -- (j5);
\draw[aA] (bmprcx) -- (smad158c);
\draw[aA] (bmprcx.north) |- (smad158c.west);
\draw[aA] (bmprcx) -- (takcx2);
\draw[aA] (bmp) -- (bmprcx);
\draw[aL] (tak2B) -- (smadcx3);
\draw[aA] (takcx2) -- (nlk);
\draw[aO] (smadcx3) -- (j7) -- (smadcx2);
\draw[aA] (src2) -- (ctnncx);
\draw[aA] (nlk) -- (tcf);
\draw[aO] (ctnncx) -- (ctnnb1);
\draw[aO] (ctnnb2) -- (ctnnb1);
\draw[aA] (cdhe) -- (ctnncx);
\draw[aI] (cd2) -- (cdhe);
\draw[aA] (apccx) -- (ctnnb2);
\draw[aA] (dsh) -- (ctnnb2);
\draw[aI] (dsh) -- (412,1063) -- (notch);
\draw[aA] (wnt1) -- (fzdcx);
\draw[aI] (wnt5a) -- (j6);
\draw[aA] (notch) -- (nicd3);
\draw[aO] (nicd3) -- (nicd2);
\draw[aO] (nicd2) -- (rbpcx);
\draw[aL] (gscx) -- (cat4);
\draw[aL] (atgc) -- (rbpcx);
\draw[aL] (lef1) |- (cs2c);
\draw[aL] (tcf) -- (tc1);
\draw[aL] (tc2) -- (537,872) -- (smadcx2);
\draw[aA] (hedge) -- (ptch);
\draw[aA] (smo) -- (gprot);
\draw[aA] (gprot) -- (sufu);
\draw[aL] (glicx) -- (gli1);
\draw[aL] (gli1) -- (hhc);
\draw[aL] (wntc) -- (hht);
\draw[aL] (wntt) -- (wntc);
\draw[aA] (erk3) -- (cjcx1);
\draw[aL] (cjcx1) -- (cr1c);
\draw[aL] (uv) -- (uvc);
\draw[aL] (dnad.west) -| (hipk2b);
\draw[aA] (dnad.south) -- (349,465) -- (atm);
\draw[aA] (dnad.east) -| (atr);
\draw[aA] (hipk2) -- (p53b);
\draw[aA] (dnapk) -- (p53b);
\draw[aA] (aurora) -- (p53b);
\draw[aA,dashed] (mdm2b) -- (p53b);
\draw[aA] (p53b) -- (p21a);
\draw[aI] (mdm2b) -- (p21a);
\draw[aA] (atm) -- (p53b);
\draw[aA] (atm) -- (chk1);
\draw[aA] (atm) -- (chk2);
\draw[aA] (atm) -- (brca1);
\draw[aA] (atm) -- (fancd2);
\draw[aA] (atr) -- (chk1);
\draw[aA] (atr) -- (chk2);
\draw[aA] (atr) -- (brca1);
\draw[aA] (chk1) -- (p53b);
\draw[aA] (chk2) -- (p53b);
\draw[aA] (chk2) -- (cdc25);
\draw[aD] (chk1) |- (cdc25);
\draw[aA] (chk2) -- (brca1);
\draw[aA,dashed] (brca1) -- (433,624) -- (chk1);
\draw[aA,dashed] (brca1) -- (nbs1);
\draw[aA] (nbs1) -- (fancd2);
\draw[aL] (fancd2) -- (drc1);
\draw[aL] (drc2) -- (538,477) -- (elk1B);
\draw[aL] (erk4) -- (elk1B);
\draw[aA] (elk1) -- (cfos3);
\draw[aA] (jnk2) -- (cjcx2);
\draw[aL] (cjcx2) -- (ccrc);
\draw[aL] (cycd1) -- (633,600) -- (ccrc2);
\draw[aL] (cdc25) |- (cca3);
\draw[aL] (p53b) -| (cca2);
\draw[aL] (p21a) -- (cca1);
\draw[aL] (p21a) -- (p14);
\draw[aA] (cck) -- (p14);
\draw[aA] (e2f1B.north east) -- (rb);
\draw[aL] (e2f1B) -- (e2f2B);
\draw[aL] (cckc) |- (e2f1);
\draw[aA] (cdk46cx) -- (e2f2B);
\draw[aA] (cdk2B) -- (e2f2B);
\draw[aI] (p16) -- (cdk46cx);
\draw[aI] (p18) -- (cdk46cx);
\draw[aI] (p19) -- (cdk46cx);
\draw[aL] (cyceB) -- (p21b);
\draw[aA] (smadcx1) -- (p21b);
\draw[aA] (smadcx1) -- (p15);
\draw[aA] (smadcx1) |- (p27);
\draw[aL] (e2f3) -- (rbl1);
\draw[aL] (rbl1) -- (smadcx1);
\draw[aL] (e2f3) -- (smadcx1);
\draw[aA] (jnk5) -- (cjcx3);
\draw[aA,dashed] (miz1) |- (myc);
\draw[aL] (cr2c) -- (727,573) -- (miz1);
\draw[aL] (smadcx1) -| (827,665) -| (miz1);
\draw[aA] (smadcx1) -- (848,895) -- (848,617) -- (myc);
\draw[aA,dashed] (p38b.north west) |- (mycx);
\draw[aA] (mkk) -- (p38);
\draw[aA] (tak2cx.137) -- (mkk);
\draw[aA] (tak1bB) -- (jnk3);
\draw[aO] (jnk3b) |- (jnk5);
\end{pgfonlayer}
\end{tikzpicture}
\end{document}
